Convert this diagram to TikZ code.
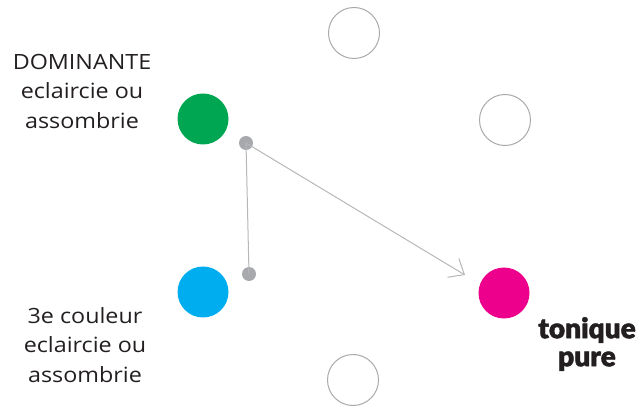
\documentclass[tikz,border=0pt]{standalone}
\usepackage{fontspec}
\setmainfont[FakeStretch=1.11]{Open Sans}
\newfontfamily\heavyfont[FakeBold=1.5]{Lato Black}
\usetikzlibrary{arrows.meta}
\definecolor{cgreen}{HTML}{00A651}
\definecolor{cblue}{HTML}{00AEEF}
\definecolor{cmag}{HTML}{EC008C}
\definecolor{cdot}{HTML}{A7A9AC}
\definecolor{cline}{HTML}{B5B7BA}
\definecolor{ctext}{HTML}{231F20}
\begin{document}
\begin{tikzpicture}[x=1pt,y=-1pt,
  disc/.style={circle,inner sep=0pt,minimum size=51pt,fill=#1},
  ring/.style={circle,inner sep=0pt,minimum size=51pt,draw=cdot,line width=1pt},
  dotnode/.style={circle,inner sep=0pt,minimum size=14pt,fill=cdot},
  conn/.style={draw=cline,line width=1pt},
  lbl/.style={align=center,text=ctext,font=\fontsize{21}{29.5}\selectfont},
  heavylbl/.style={align=center,text=ctext,font=\heavyfont\fontsize{28}{28}\selectfont}]
\useasboundingbox (0,0) rectangle (642,411);
\node[ring] (top) at (354,33) {};
\node[ring] (ur) at (505,120) {};
\node[ring] (bot) at (353,380) {};
\node[disc=cgreen] (green) at (203,119) {};
\node[disc=cblue] (blue) at (203,292) {};
\node[disc=cmag] (mag) at (504,293) {};
\node[dotnode] (d1) at (246,143) {};
\node[dotnode] (d2) at (249,274) {};
\coordinate (tip) at (465,275);
\draw[conn] (d1.center) -- (d2.center);
\draw[conn,-{Straight Barb[length=13pt,width=22pt,line width=1pt]}] (d1.center) -- (tip);
\node[lbl] (tl) at (82,91) {DOMINANTE\\eclaircie ou\\assombrie};
\node[lbl] (bl) at (85,345) {3e couleur\\eclaircie ou\\assombrie};
\node[heavylbl] (tr) at (587,344) {tonique\\pure};
\end{tikzpicture}
\end{document}
